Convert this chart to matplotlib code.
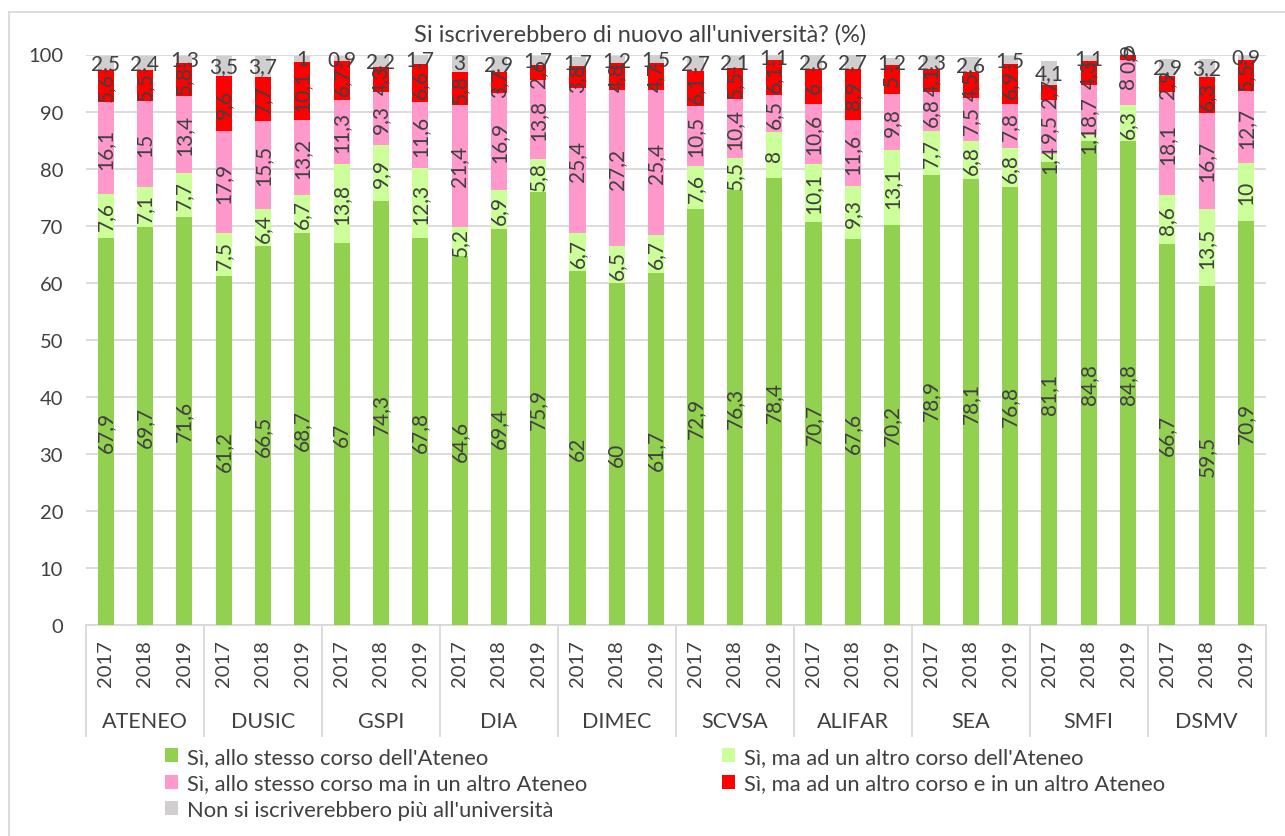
import matplotlib.pyplot as plt
from matplotlib.patches import Patch, Rectangle
import matplotlib.transforms as mtransforms
import numpy as np

plt.rcParams['font.family'] = ['Lato', 'DejaVu Sans']

# ==========================================================
# Data
# ==========================================================
groups = ['ATENEO', 'DUSIC', 'GSPI', 'DIA', 'DIMEC', 'SCVSA', 'ALIFAR', 'SEA', 'SMFI', 'DSMV']
years = ['2017', '2018', '2019']

stesso_corso = [67.9, 69.7, 71.6, 61.2, 66.5, 68.7, 67, 74.3, 67.8, 64.6, 69.4, 75.9,
                62, 60, 61.7, 72.9, 76.3, 78.4, 70.7, 67.6, 70.2, 78.9, 78.1, 76.8,
                81.1, 84.8, 84.8, 66.7, 59.5, 70.9]
altro_corso = [7.6, 7.1, 7.7, 7.5, 6.4, 6.7, 13.8, 9.9, 12.3, 5.2, 6.9, 5.8,
               6.7, 6.5, 6.7, 7.6, 5.5, 8, 10.1, 9.3, 13.1, 7.7, 6.8, 6.8,
               1.4, 1.1, 6.3, 8.6, 13.5, 10]
stesso_altro_ateneo = [16.1, 15, 13.4, 17.9, 15.5, 13.2, 11.3, 9.3, 11.6, 21.4, 16.9, 13.8,
                       25.4, 27.2, 25.4, 10.5, 10.4, 6.5, 10.6, 11.6, 9.8, 6.8, 7.5, 7.8,
                       9.5, 8.7, 8, 18.1, 16.7, 12.7]
altro_corso_ateneo = [5.6, 5.5, 5.8, 9.6, 7.7, 10.1, 6.7, 4.3, 6.6, 5.8, 3.7, 2.6,
                      3.8, 4.8, 4.7, 6.1, 5.5, 6.1, 6, 8.9, 5, 4.1, 4.5, 6.9,
                      2.7, 4.3, 0.9, 2.9, 6.3, 5.5]
non_iscritti = [2.5, 2.4, 1.3, 3.5, 3.7, 1, 0.9, 2.2, 1.7, 3, 2.9, 1.7,
                1.7, 1.2, 1.5, 2.7, 2.1, 1.1, 2.6, 2.7, 1.2, 2.3, 2.6, 1.5,
                4.1, 1.1, 0, 2.9, 3.2, 0.9]

series_names = ["Sì, allo stesso corso dell'Ateneo",
                "Sì, ma ad un altro corso dell'Ateneo",
                "Sì, allo stesso corso ma in un altro Ateneo",
                "Sì, ma ad un altro corso e in un altro Ateneo",
                "Non si iscriverebbero più all'università"]
series_colors = ['#92D050', '#CCFF99', '#FF99CC', '#FF0000', '#D0CECE']
series_values = [stesso_corso, altro_corso, stesso_altro_ateneo, altro_corso_ateneo, non_iscritti]

TEXT = '#404040'
GRID = '#D9D9D9'

# ==========================================================
# Figure
# ==========================================================
fig = plt.figure(figsize=(12.85, 8.37), dpi=100)
ax = fig.add_axes([86 / 1285, 1 - 626 / 837, (1265.7 - 86) / 1285, (626 - 55.5) / 837])

x = np.arange(len(stesso_corso))
bottom = np.zeros(len(x))
for k, (vals, col) in enumerate(zip(series_values, series_colors)):
    vals = np.array(vals)
    ax.bar(x, vals, bottom=bottom, width=0.41, color=col, zorder=3)
    for xi, b, v in zip(x, bottom, vals):
        lab = f"{v:g}".replace('.', ',')
        rot = 0 if k == 4 else 90
        ax.text(xi, b + v / 2, lab, rotation=rot, ha='center', va='center',
                fontsize=15, color=TEXT, zorder=4, rotation_mode='anchor')
    bottom += vals

ax.set_xlim(-0.5, len(x) - 0.5)
ax.set_ylim(0, 100)
ax.set_yticks(range(0, 101, 10))
ax.tick_params(axis='y', length=0, labelsize=14.5, labelcolor=TEXT, pad=16.5)
ax.yaxis.grid(True, color=GRID, linewidth=1.3, zorder=0)
ax.set_xticks([])
for s in ['left', 'right', 'top']:
    ax.spines[s].set_visible(False)
ax.spines['bottom'].set_color(GRID)
ax.spines['bottom'].set_linewidth(1.3)

# two-level category axis
trans = mtransforms.blended_transform_factory(ax.transData, ax.transAxes)
axh = 626 - 55.5
for i, xi in enumerate(x):
    ax.text(xi, -(664 - 626) / axh, years[i % 3], rotation=90, ha='center', va='center',
            fontsize=14.5, color=TEXT, transform=trans)
for g, name in enumerate(groups):
    ax.text(g * 3 + 1, -(722 - 626) / axh, name, ha='center', va='center',
            fontsize=15.5, color=TEXT, transform=trans)
for g in range(len(groups) + 1):
    ax.plot([g * 3 - 0.5, g * 3 - 0.5], [0, -(737 - 626) / axh], color=GRID,
            linewidth=1.3, transform=trans, clip_on=False)

fig.text(0.4985, 1 - 35 / 837, "Si iscriverebbero di nuovo all'università? (%)",
         ha='center', va='center', fontsize=17, color=TEXT)

# legend: two columns placed separately
h = [Patch(facecolor=c) for c in series_colors]
leg_kw = dict(frameon=False, fontsize=15.8, labelcolor=TEXT, handlelength=0.6,
              handleheight=0.6, handletextpad=0.4, labelspacing=0.3, borderpad=0,
              borderaxespad=0)
l1 = fig.legend([h[0], h[2], h[4]], [series_names[0], series_names[2], series_names[4]],
                loc='upper left', bbox_to_anchor=(165 / 1285, 1 - 748 / 837), **leg_kw)
l2 = fig.legend([h[1], h[3]], [series_names[1], series_names[3]],
                loc='upper left', bbox_to_anchor=(722 / 1285, 1 - 748 / 837), **leg_kw)

# chart area border
fig.patches.append(Rectangle((9 / 1285, -0.05), 1.1, 1 - 13 / 837 + 0.05,
                             transform=fig.transFigure, fill=False,
                             edgecolor=GRID, linewidth=1.3))

fig.savefig('out.png', dpi=100)
